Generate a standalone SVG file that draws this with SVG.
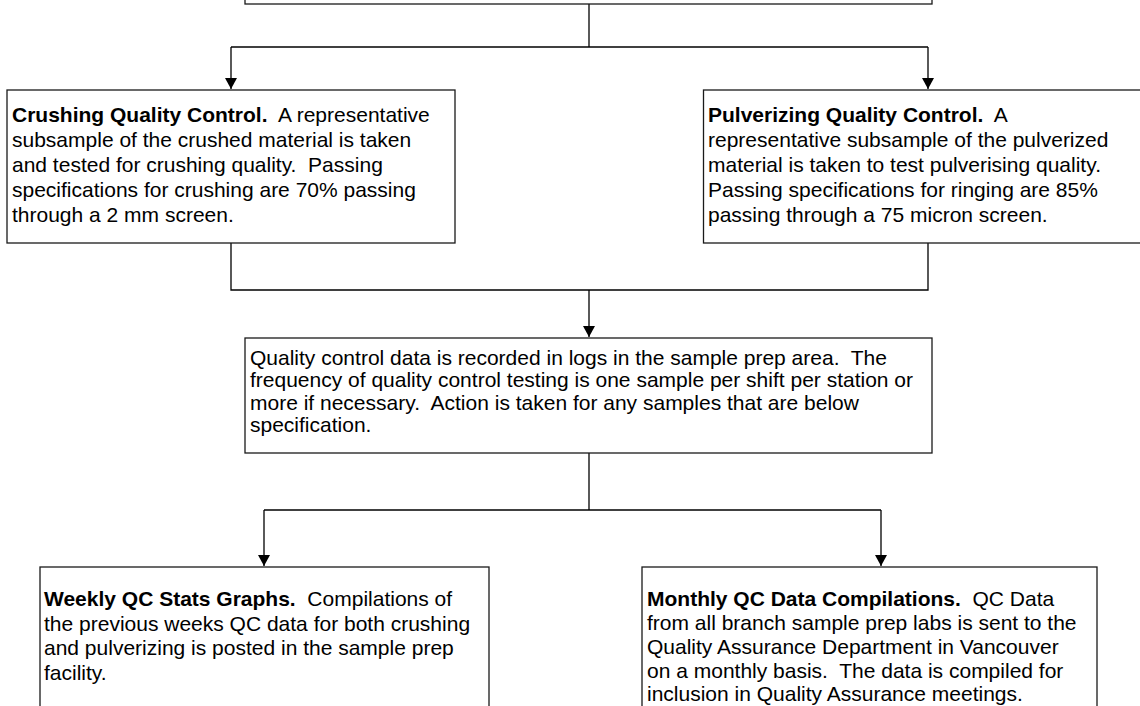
<svg xmlns="http://www.w3.org/2000/svg" width="1140" height="706" viewBox="0 0 1140 706">
<defs>
<style>
.box{fill:#fff;stroke:#1a1a1a;stroke-width:1.3}
.t{font-family:"Liberation Sans",Arial,sans-serif;font-size:21px;fill:#000;white-space:pre}
.b{font-weight:bold}
.c{fill:none;stroke:#000;stroke-width:1.3}
</style>
<marker id="ah" markerWidth="12" markerHeight="12" refX="11" refY="6" orient="auto" markerUnits="userSpaceOnUse">
<path d="M0,0 L11,6 L0,12 Z" fill="#000"/>
</marker>
</defs>
<rect width="1140" height="706" fill="#fff"/>
<g id="connectors">
<path class="c" d="M589,4 V47"/>
<path class="c" d="M231,47 H928"/>
<path class="c" d="M231,47 V89" marker-end="url(#ah)"/>
<path class="c" d="M928,47 V89" marker-end="url(#ah)"/>
<path class="c" d="M231,243 V290 H928 V243"/>
<path class="c" d="M589,290 V337" marker-end="url(#ah)"/>
<path class="c" d="M589,453 V510"/>
<path class="c" d="M264,510 H881"/>
<path class="c" d="M264,510 V566" marker-end="url(#ah)"/>
<path class="c" d="M881,510 V566" marker-end="url(#ah)"/>
</g>
<g id="top">
<rect class="box" x="245" y="-20" width="687" height="24"/>
</g>
<g id="crushing">
<rect class="box" x="7" y="90" width="448" height="153"/>
<text class="t" x="12" y="122"><tspan class="b">Crushing Quality Control.</tspan>  A representative</text>
<text class="t" x="12" y="147">subsample of the crushed material is taken</text>
<text class="t" x="12" y="172">and tested for crushing quality.  Passing</text>
<text class="t" x="12" y="197">specifications for crushing are 70% passing</text>
<text class="t" x="12" y="222">through a 2 mm screen.</text>
</g>
<g id="pulverizing">
<rect class="box" x="703.5" y="90" width="445" height="153"/>
<text class="t" x="708" y="122"><tspan class="b">Pulverizing Quality Control.</tspan>  A</text>
<text class="t" x="708" y="147">representative subsample of the pulverized</text>
<text class="t" x="708" y="172">material is taken to test pulverising quality.</text>
<text class="t" x="708" y="197">Passing specifications for ringing are 85%</text>
<text class="t" x="708" y="222">passing through a 75 micron screen.</text>
</g>
<g id="qc-data">
<rect class="box" x="245" y="338" width="687" height="115"/>
<text class="t" x="250" y="365">Quality control data is recorded in logs in the sample prep area.  The</text>
<text class="t" x="250" y="387.3">frequency of quality control testing is one sample per shift per station or</text>
<text class="t" x="250" y="409.6">more if necessary.  Action is taken for any samples that are below</text>
<text class="t" x="250" y="431.9">specification.</text>
</g>
<g id="weekly">
<rect class="box" x="40" y="567" width="449" height="160"/>
<text class="t" x="44" y="606"><tspan class="b">Weekly QC Stats Graphs.</tspan>  Compilations of</text>
<text class="t" x="44" y="630.5">the previous weeks QC data for both crushing</text>
<text class="t" x="44" y="655">and pulverizing is posted in the sample prep</text>
<text class="t" x="44" y="679.5">facility.</text>
</g>
<g id="monthly">
<rect class="box" x="642" y="567" width="455" height="160"/>
<text class="t" x="647" y="606"><tspan class="b">Monthly QC Data Compilations.</tspan>  QC Data</text>
<text class="t" x="647" y="630">from all branch sample prep labs is sent to the</text>
<text class="t" x="647" y="654">Quality Assurance Department in Vancouver</text>
<text class="t" x="647" y="678">on a monthly basis.  The data is compiled for</text>
<text class="t" x="647" y="701">inclusion in Quality Assurance meetings.</text>
</g>
</svg>
